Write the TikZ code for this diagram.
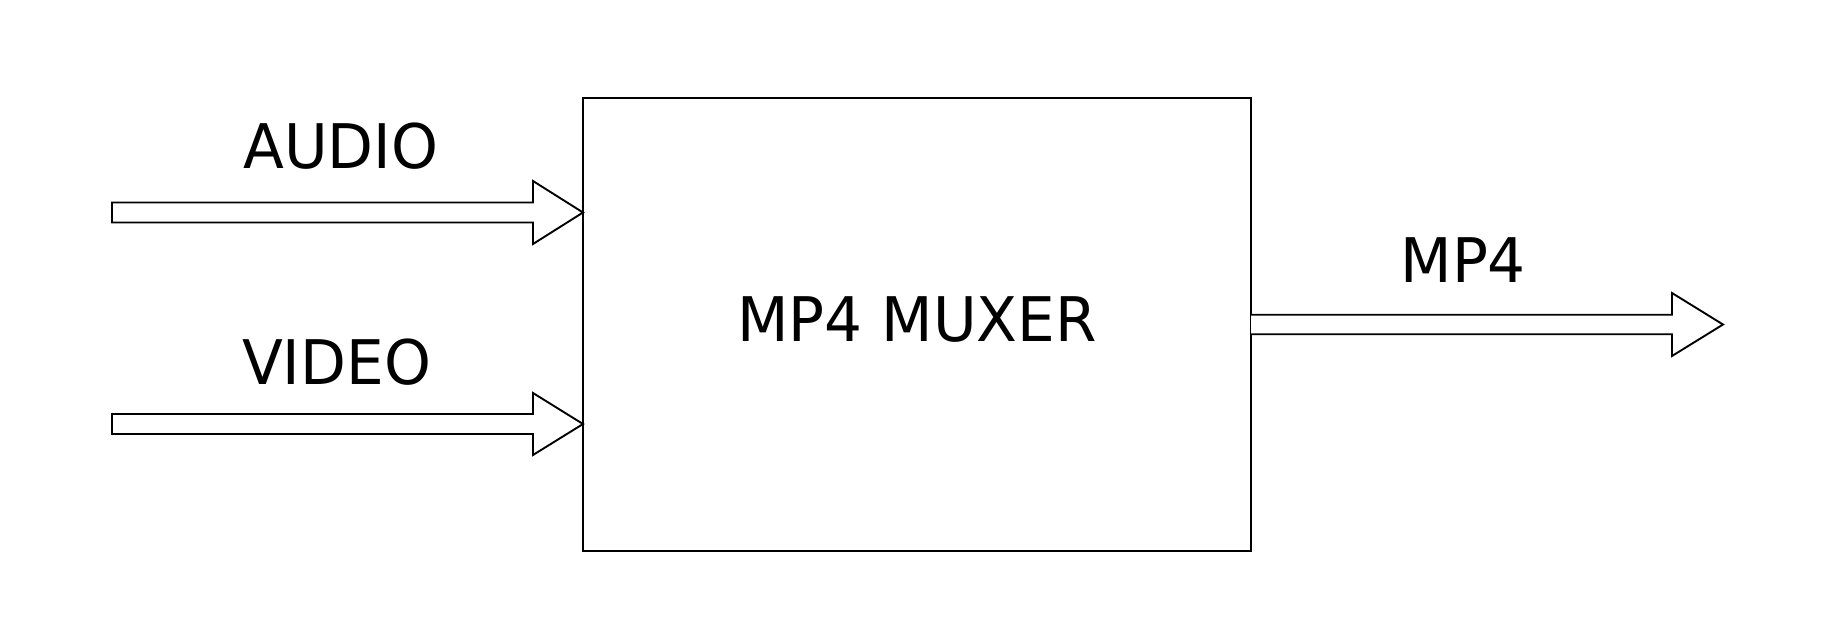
\documentclass[tikz,border=0pt]{standalone}
\usepackage{fontspec}
\setmainfont{DejaVu Sans}[FakeStretch=0.97]
\begin{document}
\begin{tikzpicture}[x=1pt,y=-1pt,
  boxstyle/.style={draw=black,line width=2.3pt},
  barrow/.style={draw=black,line width=1.9pt,fill=white,line join=miter},
  lbl/.style={anchor=base,inner sep=0pt,font=\fontsize{61.5}{70}\selectfont}]
\useasboundingbox[fill=white] (0,0) rectangle (1822,626);
% box
\draw[boxstyle] (583,98) rectangle (1251,551);
% audio arrow
\coordinate (a0) at (112,212.5);
\coordinate (atip) at (583,212.5);
\draw[barrow] (a0) ++(0,-10) -- (533,202.5) -- (533,181) -- (atip) -- (533,244) -- (533,222.5) -- (112,222.5) -- cycle;
% video arrow
\coordinate (v0) at (112,424);
\coordinate (vtip) at (583,424);
\draw[barrow] (v0) ++(0,-10) -- (533,414) -- (533,393) -- (vtip) -- (533,455) -- (533,434) -- (112,434) -- cycle;
% mp4 arrow
\coordinate (m0) at (1251,324.5);
\coordinate (mtip) at (1723,324.5);
\draw[barrow] (m0) ++(0,-9.75) -- (1672,314.75) -- (1672,293) -- (mtip) -- (1672,356) -- (1672,334.25) -- (1251,334.25);
% labels
\node[lbl] (audio) at (341,168.7) {AUDIO};
\node[lbl] (video) at (336.5,384.3) {VIDEO};
\node[lbl] (mux) at (917,341.7) {MP4 MUXER};
\node[lbl] (mp4) at (1463.2,282.5) {MP4};
\end{tikzpicture}
\end{document}
